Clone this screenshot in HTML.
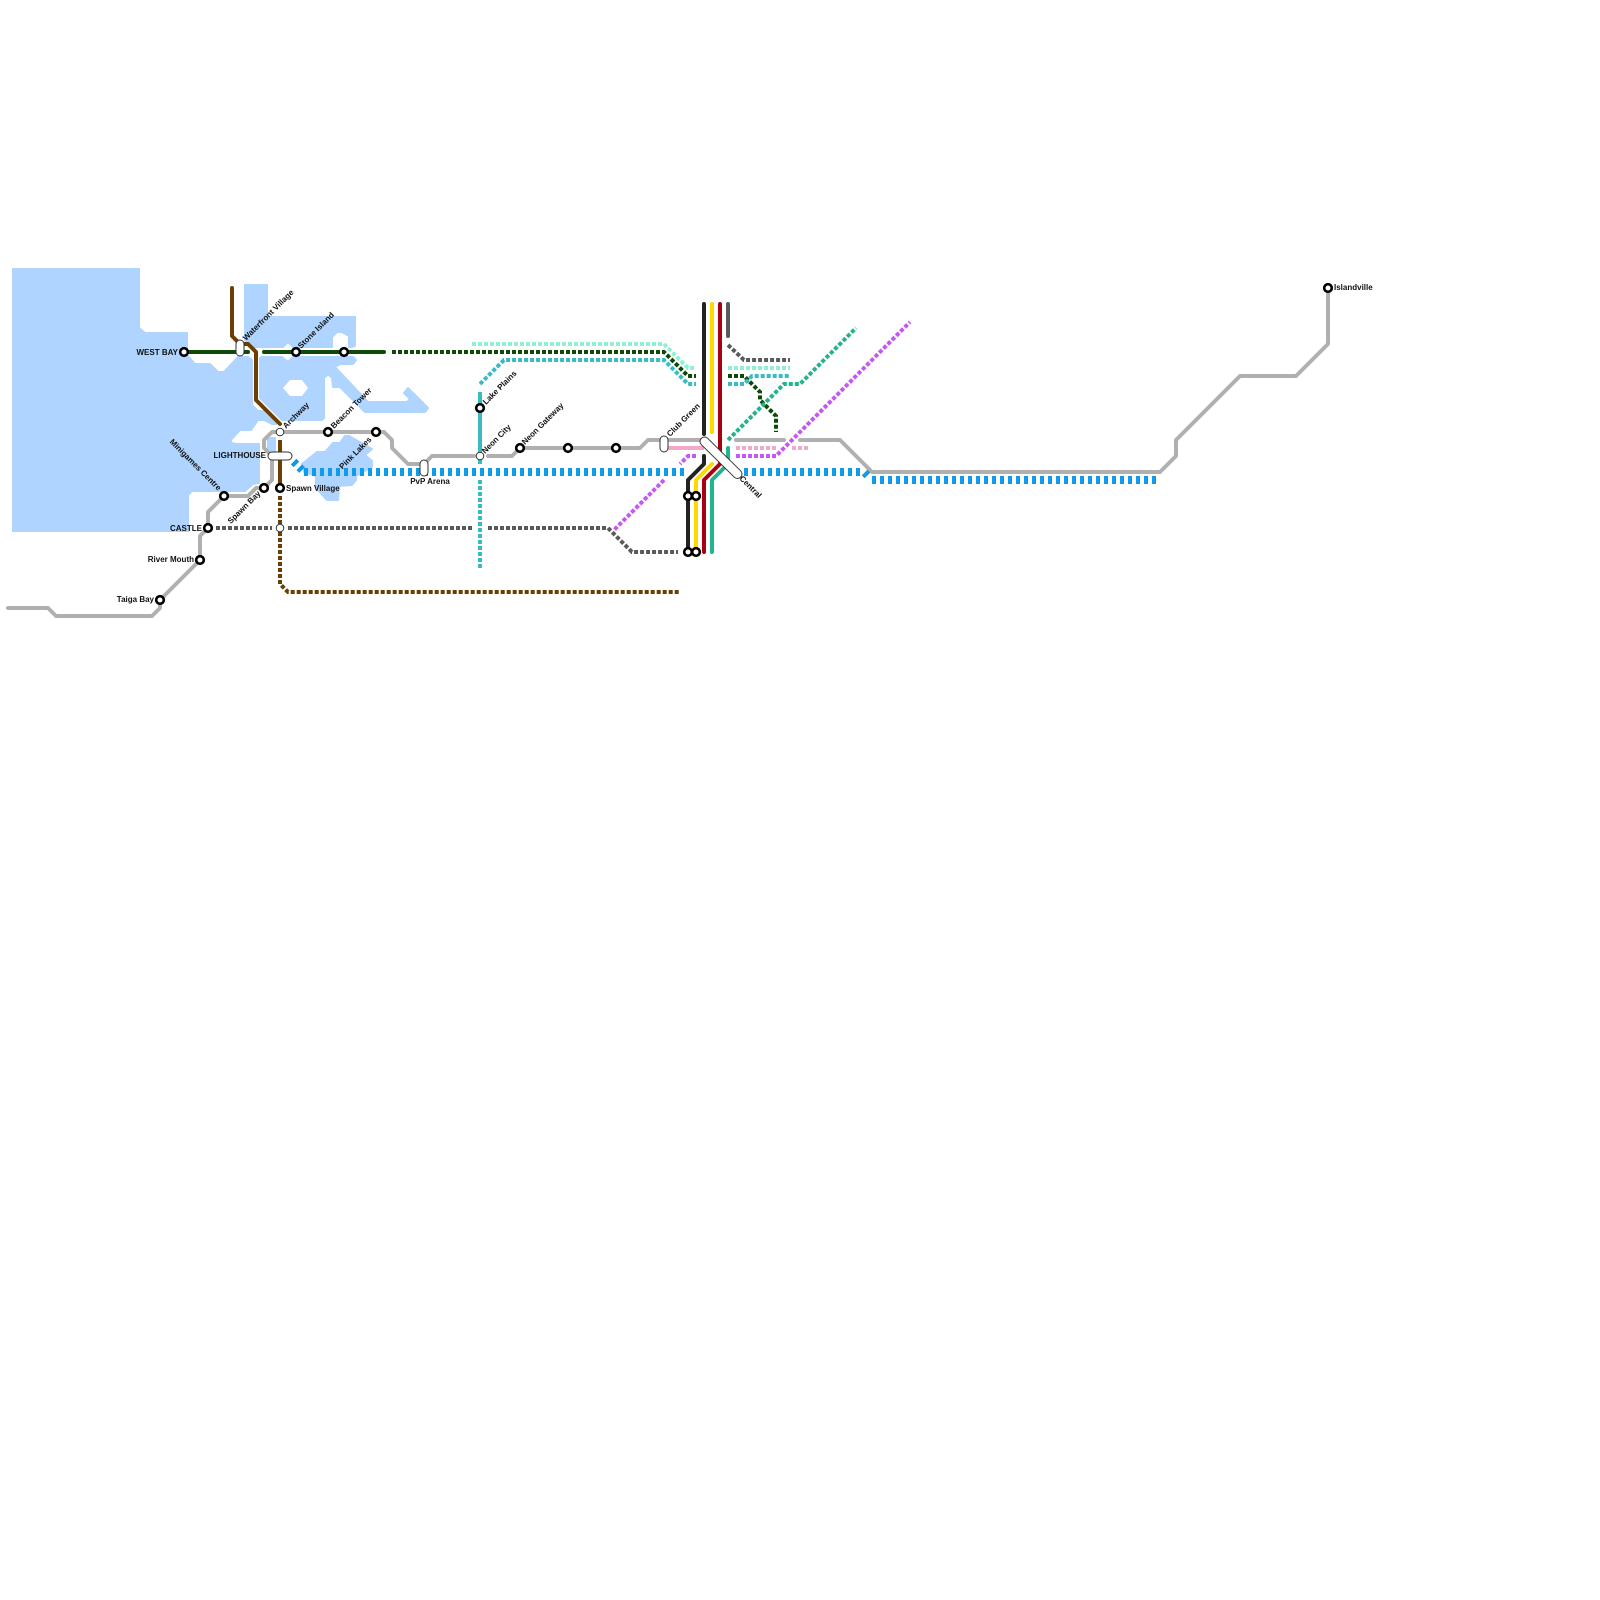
<!DOCTYPE html>
<html><head><meta charset="utf-8"><style>
html,body{margin:0;padding:0;background:#fff}
svg{display:block}
text{font-family:"Liberation Sans",sans-serif;font-weight:bold;font-size:8px;fill:#111}
.l{fill:none;stroke-width:4;stroke-linejoin:round;stroke-linecap:round}
.d{fill:none;stroke-width:4;stroke-dasharray:4 2;stroke-linejoin:miter;stroke-linecap:butt}
.s{fill:#fff;stroke:#000;stroke-width:2.6}
.h{fill:#fff;stroke:#333;stroke-width:1}
</style></head><body>
<svg width="1600" height="1600" viewBox="0 0 1600 1600" xmlns="http://www.w3.org/2000/svg">
<rect width="1600" height="1600" fill="#fff"/>
<g fill="#aed4ff" stroke="#aed4ff" stroke-width="2" stroke-linejoin="round">
<polygon points="13,269 139,269 139,328 145,333 187,333 187,355 195,364 210,364 218,372 224,372 238,357 248,357 252,360 252,405 258,411 264,411 276,424 272,424 264,420 258,420 251,430 240,430 231,440 231,443 236,444 259,444 259,483 253,484 245,491 192,491 188,495 188,531 13,531"/>
<polygon points="245,285 267,285 267,317 355,317 355,346 352,347 349,347 349,336 342,332 337,332 332,337 332,347 293,347 288,342 283,347 252,347 245,340"/>
<polygon points="262,357 282,357 288,362 293,357 353,357 356,360 353,364 340,364 335,367 368,402 407,402 410,399 404,393 408,388 428,408 425,412 365,412 340,387 333,387 332,378 328,374 324,378 324,418 322,420 282,420 260,398 260,358"/>
<polygon points="268,438 275,438 275,452 271,452 268,448"/>
<polygon points="302,464 317,452 325,452 333,443 340,443 345,436 349,436 372,449 365,455 372,461 372,467 356,476 356,480 352,485 339,486 338,500 327,500 316,488 316,476 304,472"/>
</g>
<polygon points="283,388 290,380 302,380 308,388 302,396 290,396" fill="#fff"/>

<!-- grey main line -->
<g>
<polyline class="l" stroke="#b0b0b0" points="8,608 48,608 56,616 152,616 160,608 160,600 200,560 200,536 208,528 208,512 224,496 248,496 256,488 264,488 272,480 272,456 264,448 264,440 272,432 384,432 392,440 392,448 408,464 424,464 432,456 474,456"/>
<polyline class="l" stroke="#b0b0b0" points="488,456 512,456 520,448 640,448 648,440 704,440"/>
<polyline class="l" stroke="#b0b0b0" points="736,440 784,440"/>
<polyline class="l" stroke="#b0b0b0" points="800,440 840,440 872,472 1160,472 1176,456 1176,440 1240,376 1296,376 1328,344 1328,288"/>
</g>

<!-- blue -->
<g fill="none" stroke="#0f9be5" stroke-width="8" stroke-dasharray="4 4">
<path d="M304,472H686"/>
<path d="M744,472H864"/>
<path d="M872,480H1160"/>
<path d="M293.6,461.6L303,471"/>
<path d="M864.6,472.6L870,478"/>
</g>

<!-- pink -->
<path class="l" stroke="#f2a8c8" d="M664,448H704" style="stroke-linecap:butt"/>
<path class="d" stroke="#f2a8c8" d="M736,448H776M792,448H808"/>

<!-- brown -->
<polyline class="l" stroke="#6b3e03" points="232,288 232,336 240,344 248,344 256,352 256,400 280,424"/>
<path class="l" stroke="#6b3e03" d="M280,440V488" style="stroke-linecap:butt"/>
<polyline class="d" stroke="#6b3e03" points="280,496 280,584 288,592 680,592"/>

<!-- dark green -->
<path class="l" stroke="#0e4a07" d="M184,352H248M264,352H384"/>
<polyline class="d" stroke="#0e4a07" points="392,352 664,352 688,376 696,376"/>
<polyline class="d" stroke="#0e4a07" points="728,376 744,376 760,392 760,400 776,416 776,432"/>

<!-- aquamarine -->
<polyline class="d" stroke="#8ff0d2" points="472,344 664,344 688,368 696,368"/>
<path class="d" stroke="#8ff0d2" d="M728,368H790"/>

<!-- teal -->
<polyline class="d" stroke="#38bcc4" points="480,384 504,360 664,360 688,384 696,384"/>
<polyline class="d" stroke="#38bcc4" points="728,384 744,384 752,376 790,376"/>
<path class="l" stroke="#38bcc4" d="M480,392V464" style="stroke-linecap:butt"/>
<path class="d" stroke="#38bcc4" d="M480,480V568"/>

<!-- jade -->
<polyline class="d" stroke="#20b58c" points="728,440 784,384 800,384 856,328"/>
<path class="l" stroke="#20b58c" d="M728,448V464L712,480V552"/>

<!-- purple -->
<polyline class="d" stroke="#c855f5" points="736,456 776,456 910,322"/>
<polyline class="d" stroke="#c855f5" points="696,456 688,456 680,464"/>
<path class="d" stroke="#c855f5" d="M664,480L614,530"/>

<!-- dark grey -->
<path class="l" stroke="#5a5a5a" d="M728,304V336"/>
<polyline class="d" stroke="#5a5a5a" points="728,345 744,360 790,360"/>
<path class="d" stroke="#5a5a5a" d="M216,528H272M288,528H472"/>
<polyline class="d" stroke="#5a5a5a" points="488,528 608,528 632,552 678,552"/>

<!-- verticals -->
<path class="l" stroke="#222" d="M704,304V434"/>
<path class="l" stroke="#222" d="M704,456V464L688,480V552"/>
<path class="l" stroke="#ffd800" d="M712,304V432"/>
<path class="l" stroke="#ffd800" d="M712,464L696,480V552"/>
<path class="l" stroke="#a80010" d="M720,304V464L704,480V552"/>

<!-- interchanges -->
<rect x="236" y="340" width="8" height="16" rx="4" class="h"/>
<rect x="268" y="452" width="24" height="8" rx="4" class="h"/>
<rect x="420" y="460" width="8" height="16" rx="4" class="h"/>
<rect x="660" y="436" width="8" height="16" rx="4" class="h"/>
<path d="M704.5,441.5L737.5,474" stroke="#333" stroke-width="10" stroke-linecap="round"/>
<path d="M704.5,441.5L737.5,474" stroke="#fff" stroke-width="8" stroke-linecap="round"/>
<circle cx="280" cy="432" r="3.8" class="h"/>
<circle cx="280" cy="528" r="3.8" class="h"/>
<circle cx="480" cy="456" r="3.8" class="h"/>

<!-- stations -->
<g class="s">
<circle cx="184" cy="352" r="3.8"/><circle cx="296" cy="352" r="3.8"/><circle cx="344" cy="352" r="3.8"/>
<circle cx="160" cy="600" r="3.8"/><circle cx="200" cy="560" r="3.8"/><circle cx="208" cy="528" r="3.8"/>
<circle cx="224" cy="496" r="3.8"/><circle cx="264" cy="488" r="3.8"/><circle cx="280" cy="488" r="3.8"/>
<circle cx="328" cy="432" r="3.8"/><circle cx="376" cy="432" r="3.8"/><circle cx="480" cy="408" r="3.8"/>
<circle cx="520" cy="448" r="3.8"/><circle cx="568" cy="448" r="3.8"/><circle cx="616" cy="448" r="3.8"/>
<circle cx="688" cy="496" r="3.8"/><circle cx="696" cy="496" r="3.8"/>
<circle cx="688" cy="552" r="3.8"/><circle cx="696" cy="552" r="3.8"/>
<circle cx="1328" cy="288" r="3.8"/>
</g>

<!-- labels -->
<text x="178" y="355" text-anchor="end">WEST BAY</text>
<text x="266" y="458" text-anchor="end">LIGHTHOUSE</text>
<text x="202" y="531" text-anchor="end">CASTLE</text>
<text x="194" y="562" text-anchor="end">River Mouth</text>
<text x="154" y="602" text-anchor="end">Taiga Bay</text>
<text x="286" y="491">Spawn Village</text>
<text x="430" y="484" text-anchor="middle">PvP Arena</text>
<text x="1334" y="290">Islandville</text>
<text transform="translate(246,341) rotate(-45)">Waterfront Village</text>
<text transform="translate(301,349) rotate(-45)">Stone Island</text>
<text transform="translate(286,429) rotate(-45)">Archway</text>
<text transform="translate(334,429) rotate(-45)">Beacon Tower</text>
<text transform="translate(486,405) rotate(-45)">Lake Plains</text>
<text transform="translate(485,454) rotate(-45)">Neon City</text>
<text transform="translate(525,445) rotate(-45)">Neon Gateway</text>
<text transform="translate(670,437) rotate(-45)">Club Green</text>
<text transform="translate(372,440) rotate(-45)" text-anchor="end">Pink Lakes</text>
<text transform="translate(261,494) rotate(-45)" text-anchor="end">Spawn Bay</text>
<text transform="translate(218,491) rotate(45)" text-anchor="end">Minigames Centre</text>
<text transform="translate(739,479) rotate(45)">Central</text>
</svg>
</body></html>
